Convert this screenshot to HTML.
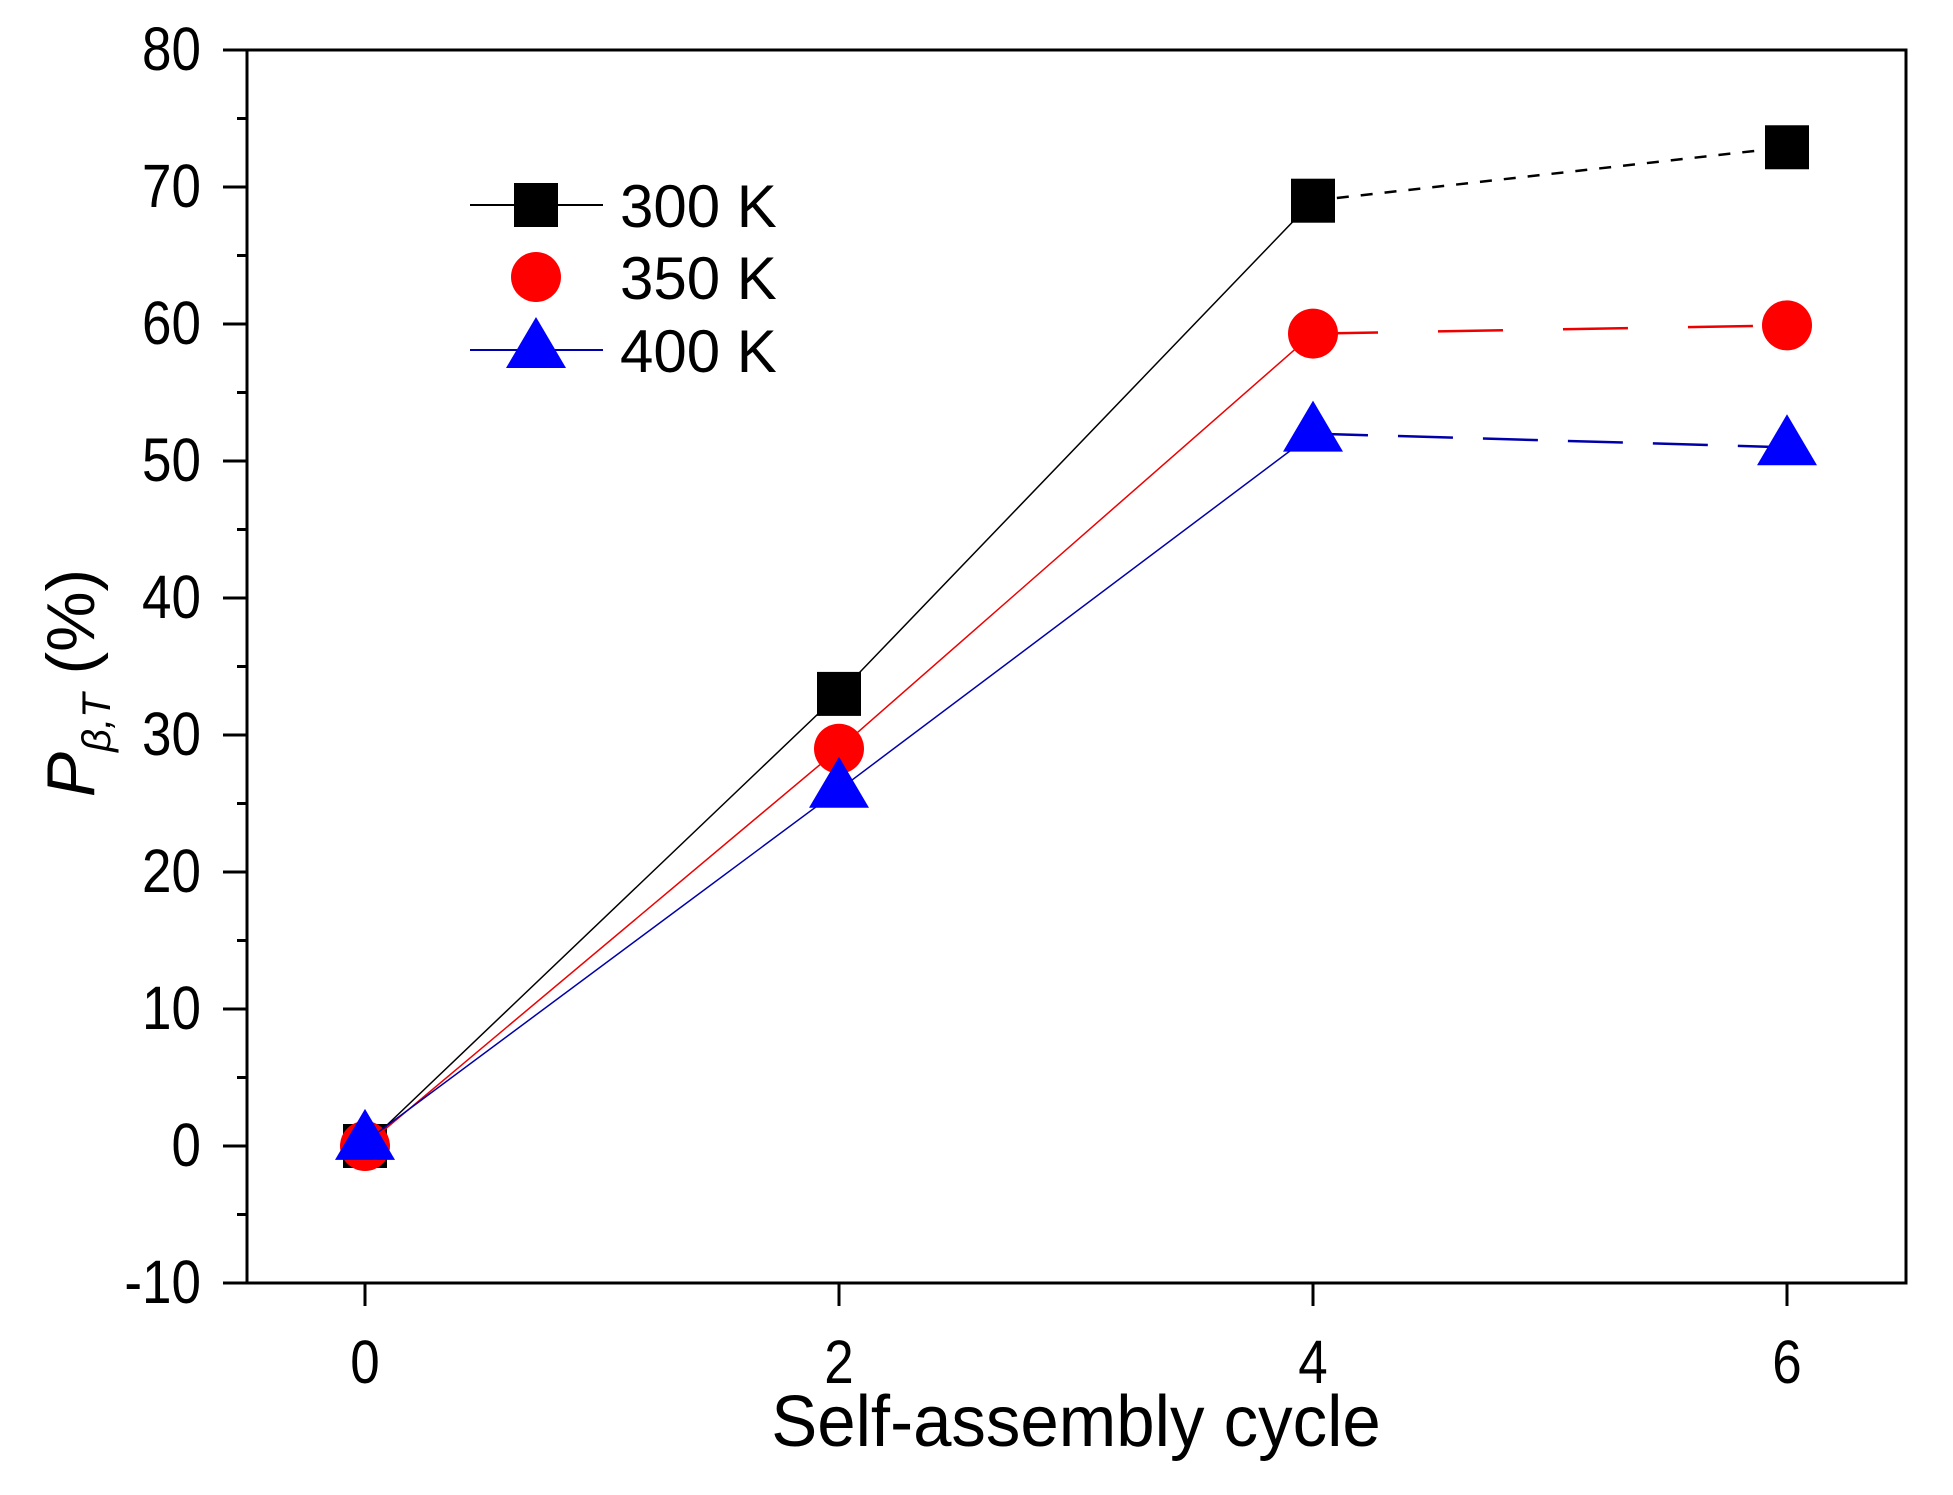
<!DOCTYPE html>
<html><head><meta charset="utf-8"><style>
html,body{margin:0;padding:0;background:#fff;}
svg{display:block;font-family:"Liberation Sans",Arial,sans-serif;}
</style></head><body>
<svg id="chart" width="1953" height="1495" viewBox="0 0 1953 1495" xmlns="http://www.w3.org/2000/svg">
<g id="axes"></g>
<g id="series"></g>
<g id="legend"></g>
</svg>
<script>
const categories = [0, 2, 4, 6];
const yTicks = [-10, 0, 10, 20, 30, 40, 50, 60, 70, 80];
const s300 = [0, 33, 69, 72.9];
const s350 = [0, 29, 59.3, 59.9];
const s400 = [0.3, 26, 52, 51];
const seriesNames = ["300 K", "350 K", "400 K"];

const NS = "http://www.w3.org/2000/svg";
const L = 247, R = 1906, T = 50, B = 1283;
function xs(v){ return 365 + v * (1787 - 365) / 6; }
function ys(v){ return T + (80 - v) * (B - T) / 90; }
function mk(tag, attrs, parent){ const e = document.createElementNS(NS, tag); for (const k in attrs) e.setAttribute(k, attrs[k]); parent.appendChild(e); return e; }

const axes = document.getElementById('axes');
const frame = mk('rect', {x:L, y:T, width:R-L, height:B-T, fill:'none', stroke:'#000', 'stroke-width':3}, axes);


yTicks.forEach(function(v){
  const t = mk('line', {x1:L-24, x2:L, y1:ys(v), y2:ys(v), stroke:'#000', 'stroke-width':3}, axes);
  
  
  const lb = mk('text', {x:0, y:0, 'font-size':53, 'text-anchor':'end', transform:'translate(201,'+(ys(v)+20)+') scale(1,1.15)'}, axes);
  lb.textContent = v;
  
  
  if (v < 80) {
    const m = mk('line', {x1:L-10, x2:L, y1:ys(v+5), y2:ys(v+5), stroke:'#000', 'stroke-width':3}, axes);
    
    
  }
});
categories.forEach(function(c){
  const t = mk('line', {x1:xs(c), x2:xs(c), y1:B, y2:B+23, stroke:'#000', 'stroke-width':3}, axes);
  
  
  const lb = mk('text', {x:0, y:0, 'font-size':53, 'text-anchor':'middle', transform:'translate('+xs(c)+',1383) scale(1,1.15)'}, axes);
  lb.textContent = c;
  
  
});
const xt = mk('text', {x:0, y:0, 'font-size':69, 'text-anchor':'middle', transform:'translate(1076,1446) scale(1,1.05)'}, axes);
xt.textContent = 'Self-assembly cycle';


const yt = mk('text', {x:0, y:0, 'font-size':68, 'text-anchor':'middle', transform:'translate(94,683) rotate(-90)'}, axes);
yt.innerHTML = '<tspan font-style="italic">P</tspan><tspan font-style="italic" font-size="40" dy="16">β,T</tspan><tspan dy="-16"> (%)</tspan>';



const sg = document.getElementById('series');
const defs = [
  {vals:s300, color:'#000', dash:'12,12', shape:'square', name:'series-300k'},
  {vals:s350, color:'#e00', dash:'65,60', shape:'circle', name:'series-350k'},
  {vals:s400, color:'#00a', dash:'55,30', shape:'triangle', name:'series-400k'}
];
function marker(shape, cx, cy, color, parent){
  let e;
  if (shape === 'square') e = mk('rect', {x:cx-22, y:cy-22, width:44, height:44, fill:color}, parent);
  else if (shape === 'circle') e = mk('circle', {cx:cx, cy:cy, r:25, fill:'#f00'}, parent);
  else e = mk('polygon', {points:(cx)+','+(cy-33)+' '+(cx-30)+','+(cy+18)+' '+(cx+30)+','+(cy+18), fill:'#00f'}, parent);
  return e;
}
defs.forEach(function(d){
  const g = mk('g', {}, sg);
  
  
  const pts = d.vals.map(function(v,i){ return xs(categories[i])+','+ys(v); });
  const solid = mk('polyline', {points:pts.slice(0,3).join(' '), fill:'none', stroke:d.color, 'stroke-width':1.5}, g);
  
  
  const dashed = mk('polyline', {points:pts.slice(2).join(' '), fill:'none', stroke:d.color, 'stroke-width':2.5, 'stroke-dasharray':d.dash}, g);
  
  
  d.vals.forEach(function(v,i){
    const m = marker(d.shape, xs(categories[i]), ys(v), d.color, g);
    
    
  });
});

const lg = document.getElementById('legend');
const rows = [205, 277, 350];
defs.forEach(function(d,i){
  const g = mk('g', {}, lg);
  
  
  if (d.shape !== 'circle') mk('line', {x1:470, x2:603, y1:rows[i], y2:rows[i], stroke:d.color, 'stroke-width':2}, g);
  marker(d.shape, 536, rows[i], d.color, g);
  const t = mk('text', {x:620, y:rows[i]+22, 'font-size':60}, g);
  t.textContent = seriesNames[i];
});
</script>
</body></html>
